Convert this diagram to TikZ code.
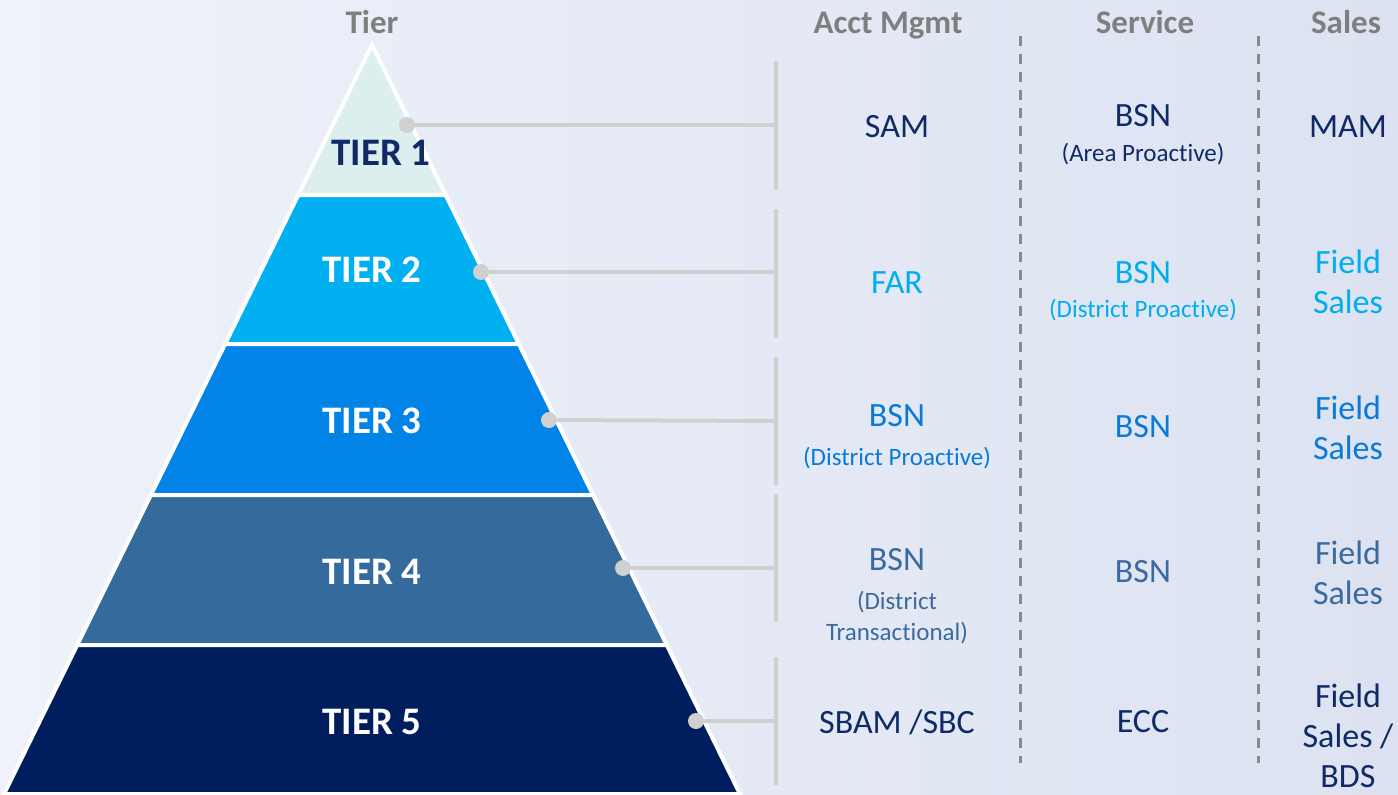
\documentclass[tikz,border=0pt]{standalone}
\usepackage{xcolor}
\usepackage{fontspec}
\usepackage{tikz}
\setmainfont{Carlito}[Ligatures=NoCommon]

\definecolor{bgleft}{HTML}{EFF2FA}
\definecolor{bgright}{HTML}{DCE2F1}
\definecolor{tierA}{HTML}{DCEEEE}
\definecolor{tierB}{HTML}{00B0F0}
\definecolor{tierC}{HTML}{0283E8}
\definecolor{tierD}{HTML}{346A9C}
\definecolor{tierE}{HTML}{001E5E}
\definecolor{navy}{HTML}{0F2A66}
\definecolor{skyblue}{HTML}{00AEEF}
\definecolor{midblue}{HTML}{0A7AD8}
\definecolor{steel}{HTML}{3A6A9E}
\definecolor{headgray}{HTML}{7F7F7F}
\definecolor{linkgray}{HTML}{D0D0D0}
\definecolor{dashgray}{HTML}{8A8A8A}

\tikzset{
  head/.style={font=\fontsize{16.5}{19}\selectfont\bfseries, text=headgray, anchor=base},
  tierlabel/.style={font=\fontsize{19.5}{22}\selectfont\bfseries, text=white},
  role/.style={font=\fontsize{17}{20}\selectfont, align=center},
  note/.style={font=\fontsize{12.5}{15.5}\selectfont, align=center},
  dot/.style={circle, fill=linkgray, minimum size=8pt, inner sep=0pt},
  link/.style={draw=linkgray, line width=2pt},
  bar/.style={draw=linkgray, line width=2pt},
  divider/.style={draw=dashgray, line width=1.5pt, dash pattern=on 5pt off 4pt}
}

\begin{document}
\begin{tikzpicture}[x=0.5pt, y=-0.5pt]
  % background
  \shade[left color=bgleft, right color=bgright] (0,0) rectangle (1398,794);
  \useasboundingbox (0,0) rectangle (1398,794);

  % pyramid, one band per tier
  \foreach \ya/\yb/\col in {45/195/tierA, 195/344/tierB, 344/495/tierC, 495/645/tierD, 645/794/tierE}
    \filldraw[fill=\col, draw=white, line width=2pt]
      ({372-0.4913*(\ya-45)},\ya) -- ({372+0.4913*(\ya-45)},\ya)
      -- ({372+0.4913*(\yb-45)},\yb) -- ({372-0.4913*(\yb-45)},\yb) -- cycle;

  \node[tierlabel, text=navy] (t1) at (381,153) {TIER 1};
  \node[tierlabel] (t2) at (372,270) {TIER 2};
  \node[tierlabel] (t3) at (372,421) {TIER 3};
  \node[tierlabel] (t4) at (372,572) {TIER 4};
  \node[tierlabel] (t5) at (372,722) {TIER 5};

  % headers
  \node[head] (hTier) at (372,33) {Tier};
  \node[head] (hAcct) at (888,33) {Acct Mgmt};
  \node[head] (hServ) at (1145,33) {Service};
  \node[head] (hSales) at (1346,33) {Sales};

  % brackets beside the acct column
  \draw[bar] (776,61) -- (776,190);
  \draw[bar] (776,209) -- (776,338);
  \draw[bar] (776,357) -- (776,485);
  \draw[bar] (776,494) -- (776,622);
  \draw[bar] (776,657) -- (776,785);
  \coordinate (b1) at (776,125);
  \coordinate (b2) at (776,272);
  \coordinate (b3) at (776,421);
  \coordinate (b4) at (776,568);
  \coordinate (b5) at (776,721);

  % connectors from the pyramid edge
  \node[dot] (d1) at (407,125) {};
  \node[dot] (d2) at (481,272) {};
  \node[dot] (d3) at (549,420) {};
  \node[dot] (d4) at (623,568) {};
  \node[dot] (d5) at (696,721) {};
  \draw[link] (d1) -- (b1);
  \draw[link] (d2) -- (b2);
  \draw[link] (d3) -- (b3);
  \draw[link] (d4) -- (b4);
  \draw[link] (d5) -- (b5);

  % column dividers
  \coordinate (v1top) at (1020,36);
  \coordinate (v1bot) at (1020,763);
  \coordinate (v2top) at (1258,36);
  \coordinate (v2bot) at (1258,763);
  \draw[divider] (v1top) -- (v1bot);
  \draw[divider] (v2top) -- (v2bot);

  % tier 1
  \node[role, text=navy] (a1) at (897,127) {SAM};
  \node[role, text=navy] (s1) at (1143,116) {BSN};
  \node[note, text=navy] (s1n) at (1143,154) {(Area Proactive)};
  \node[role, text=navy] (m1) at (1348,127) {MAM};

  % tier 2
  \node[role, text=skyblue] (a2) at (897,283) {FAR};
  \node[role, text=skyblue] (s2) at (1143,273) {BSN};
  \node[note, text=skyblue] (s2n) at (1143,310) {(District Proactive)};
  \node[role, text=skyblue] (m2) at (1348,282) {Field\\Sales};

  % tier 3
  \node[role, text=midblue] (a3) at (897,416) {BSN};
  \node[note, text=midblue] (a3n) at (897,458) {(District Proactive)};
  \node[role, text=midblue] (s3) at (1143,427) {BSN};
  \node[role, text=midblue] (m3) at (1348,428) {Field\\Sales};

  % tier 4
  \node[role, text=steel] (a4) at (897,560) {BSN};
  \node[note, text=steel] (a4n) at (897,618) {(District\\Transactional)};
  \node[role, text=steel] (s4) at (1143,572) {BSN};
  \node[role, text=steel] (m4) at (1348,573) {Field\\Sales};

  % tier 5
  \node[role, text=navy] (a5) at (897,722) {SBAM /SBC};
  \node[role, text=navy] (s5) at (1143,722) {ECC};
  \node[role, text=navy] (m5) at (1348,736) {Field\\Sales /\\BDS};
\end{tikzpicture}
\end{document}
